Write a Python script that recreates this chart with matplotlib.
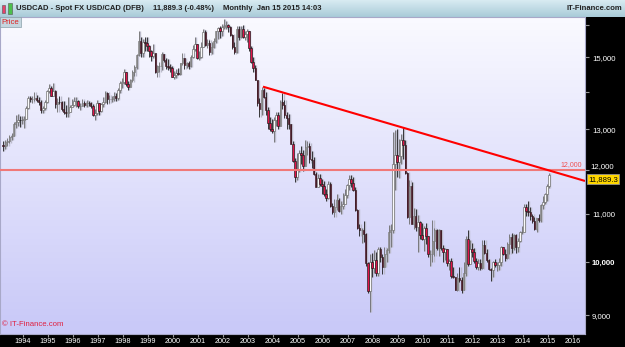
import matplotlib
matplotlib.use("Agg")
import matplotlib.pyplot as plt
import numpy as np
from matplotlib.patches import Rectangle

# USDCAD monthly candles, Mar 1993 .. Jan 2015 (chart quotes x10000)
first_open = 12600
close = [
    12580, 12670, 12700, 12810, 12840, 13140, 13200, 13250, 13240, 13250,  # 1993 (Mar-Dec)
    13270, 13570, 13830, 13820, 13820, 13830, 13780, 13720, 13500, 13560, 13730, 14020,  # 1994
    14100, 13900, 14020, 13660, 13740, 13730, 13540, 13470, 13420, 13470, 13580, 13650,  # 1995
    13760, 13760, 13620, 13630, 13690, 13650, 13710, 13700, 13620, 13390, 13440, 13700,  # 1996
    13490, 13670, 13720, 13980, 13800, 13800, 13820, 13900, 13840, 14070, 14250, 14280,  # 1997
    14560, 14230, 14150, 14330, 14580, 14700, 15060, 15480, 15140, 15460, 15430, 15330,  # 1998
    15180, 15030, 15130, 14580, 14730, 14730, 15090, 14910, 14740, 14700, 14680, 14430,  # 1999
    14480, 14530, 14510, 14820, 14990, 14780, 14840, 14730, 15020, 15250, 15400, 14990,  # 2000
    15010, 15320, 15770, 15370, 15430, 15170, 15320, 15490, 15790, 15890, 15800, 15920,  # 2001
    15960, 16000, 15940, 15660, 15300, 15170, 15870, 15610, 15870, 15620, 15690, 15790,  # 2002
    15290, 14870, 14690, 14350, 13690, 13530, 14050, 13850, 13510, 13180, 13000, 12960,  # 2003
    13250, 13370, 13100, 13720, 13640, 13370, 13290, 13130, 12640, 12210, 11840, 12000,  # 2004
    12400, 12360, 12100, 12560, 12590, 12250, 12240, 11900, 11610, 11800, 11680, 11630,  # 2005
    11440, 11360, 11670, 11180, 11030, 11150, 11300, 11060, 11180, 11220, 11420, 11650,  # 2006
    11790, 11700, 11540, 11080, 10690, 10650, 10660, 10570, 9970, 9450, 9990, 9880,  # 2007
    10040, 9790, 10270, 10090, 9910, 10150, 10240, 10620, 10650, 12150, 12370, 12180,  # 2008
    12330, 12730, 12600, 11930, 10930, 11630, 10780, 10950, 10720, 10830, 10550, 10470,  # 2009
    10690, 10530, 10150, 10150, 10420, 10650, 10280, 10660, 10290, 10190, 10260, 9980,  # 2010
    10010, 9720, 9700, 9460, 9690, 9640, 9460, 9790, 10470, 9960, 10260, 10190,  # 2011
    10020, 9900, 9980, 9880, 10340, 10180, 10030, 9860, 9840, 9990, 9940, 9950,  # 2012
    9990, 10300, 10160, 10080, 10360, 10510, 10280, 10540, 10300, 10430, 10610, 10620,  # 2013
    11140, 11070, 11050, 10960, 10840, 10670, 10910, 10870, 11200, 11270, 11430, 11620,  # 2014
    11889.3,  # 2015 Jan
]
high = [
    12700, 12730, 12780, 12860, 12920, 13190, 13380, 13410, 13360, 13340,
    13350, 13620, 13900, 13900, 13880, 13990, 13930, 13860, 13770, 13620, 13780, 14060,
    14230, 14160, 14260, 14060, 13840, 13890, 13760, 13760, 13650, 13860, 13640, 13810,
    13860, 13850, 13780, 13710, 13800, 13750, 13780, 13760, 13740, 13660, 13530, 13770,
    13700, 13700, 13850, 14030, 13990, 13930, 13900, 13990, 13970, 14120, 14300, 14400,
    14640, 14580, 14300, 14380, 14620, 14760, 15100, 15805, 15600, 15560, 15600, 15620,
    15380, 15230, 15390, 15140, 14760, 14860, 15160, 15110, 14980, 14950, 14800, 14750,
    14600, 14640, 14690, 14840, 15130, 14990, 14860, 14900, 15070, 15380, 15600, 15390,
    15190, 15450, 15850, 15820, 15560, 15520, 15470, 15580, 15800, 15920, 15950, 16030,
    16190, 16110, 16030, 15970, 15700, 15450, 15960, 15950, 15960, 16000, 15800, 15860,
    15800, 15350, 15000, 14780, 14340, 13840, 14150, 14100, 13990, 13590, 13330, 13270,
    13320, 13470, 13450, 13780, 13970, 13790, 13470, 13410, 13130, 12700, 12290, 12420,
    12470, 12570, 12490, 12730, 12700, 12650, 12460, 12310, 11960, 11910, 11900, 11790,
    11730, 11560, 11740, 11710, 11230, 11330, 11450, 11350, 11290, 11470, 11560, 11670,
    11880, 11870, 11840, 11590, 11110, 10780, 10700, 10850, 10590, 10000, 10150, 10180,
    10250, 10190, 10310, 10300, 10150, 10300, 10290, 10750, 10780, 12940, 12990, 13000,
    12760, 12880, 13060, 12730, 11950, 11770, 11720, 11130, 11100, 10980, 10840, 10810,
    10730, 10800, 10480, 10250, 10860, 10690, 10680, 10680, 10540, 10350, 10290, 10250,
    10050, 10070, 9900, 9710, 9780, 9910, 9700, 9990, 10530, 10660, 10450, 10390,
    10290, 10080, 10050, 10060, 10440, 10450, 10260, 10050, 9890, 10010, 10050, 9990,
    10080, 10330, 10300, 10270, 10400, 10560, 10600, 10560, 10580, 10480, 10640, 10730,
    11220, 11220, 11280, 11140, 11000, 10940, 10910, 11000, 11210, 11390, 11470, 11680,
    11920,
]
low = [
    12450, 12510, 12590, 12650, 12720, 12830, 13050, 13100, 13060, 13140,
    13040, 13270, 13530, 13720, 13700, 13760, 13740, 13650, 13440, 13430, 13500, 13700,
    13960, 13880, 13890, 13560, 13470, 13670, 13490, 13400, 13330, 13330, 13460, 13580,
    13610, 13600, 13570, 13510, 13610, 13580, 13600, 13610, 13560, 13360, 13250, 13380,
    13370, 13450, 13580, 13700, 13680, 13700, 13720, 13750, 13760, 13780, 13980, 14120,
    14220, 14170, 14070, 14130, 14280, 14440, 14650, 15040, 15000, 15000, 15180, 15180,
    15000, 14880, 14980, 14540, 14430, 14580, 14620, 14850, 14640, 14630, 14580, 14410,
    14360, 14400, 14470, 14470, 14780, 14660, 14680, 14640, 14710, 14990, 15200, 14940,
    14930, 14990, 15300, 15350, 15270, 15070, 15100, 15280, 15440, 15540, 15590, 15630,
    15850, 15870, 15770, 15630, 15250, 15100, 15120, 15530, 15580, 15580, 15520, 15460,
    15190, 14830, 14580, 14340, 13630, 13330, 13380, 13830, 13380, 13010, 12970, 12900,
    12680, 13080, 13000, 13090, 13540, 13300, 13010, 13000, 12620, 12180, 11720, 11760,
    11940, 12150, 11980, 12090, 12370, 12170, 12040, 11880, 11590, 11630, 11620, 11430,
    11400, 11280, 11320, 11150, 10990, 10940, 11090, 11040, 11000, 11110, 11210, 11340,
    11540, 11590, 11500, 11060, 10680, 10530, 10380, 10400, 9920, 9410, 9060, 9710,
    9790, 9720, 9720, 10000, 9770, 9910, 9990, 10170, 10300, 10600, 11530, 11830,
    11820, 12150, 12270, 11910, 10910, 10790, 10780, 10680, 10640, 10200, 10460, 10440,
    10210, 10360, 10100, 9930, 10000, 10110, 10230, 10120, 10240, 10000, 10040, 9920,
    9840, 9690, 9680, 9460, 9440, 9620, 9410, 9460, 9720, 9920, 9990, 10090,
    9980, 9870, 9840, 9840, 9870, 10160, 10000, 9840, 9630, 9710, 9900, 9820,
    9840, 9920, 10140, 10010, 10050, 10150, 10180, 10240, 10180, 10200, 10410, 10560,
    10610, 10950, 10950, 10860, 10810, 10650, 10620, 10830, 10830, 11100, 11210, 11290,
    11580,
]

# month stamps of the candles
months = [(1993, m) for m in range(3, 13)]
months += [(y, m) for y in range(1994, 2015) for m in range(1, 13)]
months += [(2015, 1)]

year_ticks = list(range(1994, 2017))
price_ticks = [9000, 10000, 11000, 12000, 13000, 14000, 15000, 16000]
price_labels = ["9,000", "10,000", "11,000", "", "13,000", "", "15,000", ""]

level_line = 12000
trend_start = (2003.6, 14150)
trend_end = (2016.48, 11740)
last_price = 11889.3

title_main = "USDCAD - Spot FX USD/CAD (DFB)"
title_quote = "11,889.3 (-0.48%)"
title_period = "Monthly  Jan 15 2015 14:03"

# ------------------------------------------------------------------
W, H = 625, 347
plt.rcParams["font.family"] = ["Liberation Sans", "DejaVu Sans"]
fig = plt.figure(figsize=(W / 100, H / 100), dpi=100, facecolor="black")


def rect(x0, y0, x1, y1):
    return [x0 / W, 1 - y1 / H, (x1 - x0) / W, (y1 - y0) / H]


# header bar
hdr = fig.add_axes(rect(0, 0, W, 17))
grad = np.linspace(0, 1, 50)[:, None]
hdr.imshow(grad, cmap=matplotlib.colors.LinearSegmentedColormap.from_list(
    "hdr", ["#d8ebf2", "#a9cbd8"]), aspect="auto", extent=[0, 1, 0, 1])
hdr.set_axis_off()
hdr.set_xlim(0, 1)
hdr.set_ylim(0, 1)

fig.add_artist(Rectangle((2 / W, 1 - 13 / H), 3 / W, 8 / H, transform=fig.transFigure,
                         facecolor="#e8406a", edgecolor="#555555", lw=0.4))
fig.add_artist(Rectangle((8 / W, 1 - 14 / H), 4 / W, 11 / H, transform=fig.transFigure,
                         facecolor="#4cc04c", edgecolor="#555555", lw=0.4))
tk = dict(fontsize=5.5, fontweight="bold", color="#202020", va="center")
fig.text(16 / W, 1 - 8 / H, title_main, **tk)
fig.text(153 / W, 1 - 8 / H, title_quote, **tk)
fig.text(223 / W, 1 - 8 / H, title_period, **tk)
fig.text(622 / W, 1 - 8 / H, "IT-Finance.com", ha="right", **tk)

# plot background gradient
bg = fig.add_axes(rect(0, 17, 585, 334))
bg.imshow(grad, cmap=matplotlib.colors.LinearSegmentedColormap.from_list(
    "bg", ["#f9f9ff", "#c9c9f8"]), aspect="auto", extent=[0, 1, 0, 1])
bg.set_axis_off()

ax = fig.add_axes(rect(0, 17, 585, 334), facecolor="none")

x = np.array([y + (m - 0.5) / 12 for y, m in months])
c = np.array(close, dtype=float)
o = np.concatenate([[first_open], c[:-1]])
h = np.maximum(np.array(high, dtype=float), np.maximum(o, c))
l = np.minimum(np.array(low, dtype=float), np.minimum(o, c))
up = c >= o

bw = 0.062
# soft grey shadow behind each candle
ax.vlines(x + 0.045, l, h, color="#bcbccc", lw=1.0, zorder=1)
ax.bar(x + 0.045, np.abs(c - o), bottom=np.minimum(o, c), width=bw,
       color="#bcbccc", lw=0, zorder=1)

ax.vlines(x[up], l[up], h[up], color="#6a6a6a", lw=0.6, zorder=2)
ax.vlines(x[~up], l[~up], h[~up], color="#1a1a1a", lw=0.6, zorder=2)
ax.bar(x[up], np.abs(c - o)[up], bottom=np.minimum(o, c)[up], width=bw,
       color="#fafafa", edgecolor="#666666", lw=0.45, zorder=3)
ax.bar(x[~up], np.abs(c - o)[~up], bottom=np.minimum(o, c)[~up], width=bw,
       color="#e0144a", edgecolor="#1a1a1a", lw=0.45, zorder=3)

ax.axhline(level_line, color="#f07878", lw=1.5, zorder=4)
ax.plot([trend_start[0], trend_end[0]], [trend_start[1], trend_end[1]],
        color="#ff0000", lw=1.5, zorder=5, solid_capstyle="butt")

ax.set_yscale("log")
ax.set_xlim(1993.08, 2016.48)
ax.set_ylim(8671, 16243)

ax.yaxis.tick_right()
ax.set_yticks(price_ticks)
ax.set_yticklabels(price_labels)
ax.yaxis.set_minor_locator(matplotlib.ticker.NullLocator())
ax.tick_params(axis="y", direction="out", length=3, color="#999999", labelcolor="white",
               labelsize=5.6, pad=2)
for t in ax.get_yticklabels():
    if t.get_text() == "10,000":
        t.set_fontweight("bold")
# 12,000 axis label sits just above the last-price box
ax.text(1.0 + 5 / 585, level_line * 1.0005, "12,000", transform=ax.get_yaxis_transform(),
        ha="left", va="bottom", fontsize=5.6, color="white", clip_on=False)

ax.set_xticks(year_ticks)
ax.set_xticklabels([str(y) for y in year_ticks])
ax.tick_params(axis="x", direction="out", length=2, color="#999999", labelcolor="white",
               labelsize=5.2, pad=1)

for s in ax.spines.values():
    s.set_color("#a8a8c8")
    s.set_linewidth(0.8)

ax.text(0.995, level_line * 1.004, "12,000", transform=ax.get_yaxis_transform(),
        ha="right", va="bottom", fontsize=5, color="#f05050", zorder=6)
ax.text(1.005, last_price * 0.998, "11,889.3", transform=ax.get_yaxis_transform(),
        ha="left", va="top", fontsize=5.6, color="black", zorder=10, clip_on=False,
        bbox=dict(boxstyle="square,pad=0.15", facecolor="#ffd700", edgecolor="#909090", lw=0.6))

ax.text(0.003, 0.995, "Price", transform=ax.transAxes, ha="left", va="top",
        fontsize=5.6, color="#e02020", zorder=10,
        bbox=dict(boxstyle="square,pad=0.2", facecolor="#c4d6df", edgecolor="#8aa0aa", lw=0.5))
ax.text(0.004, 0.018, "\u00a9 IT-Finance.com", transform=ax.transAxes, ha="left",
        va="bottom", fontsize=5.6, color="#e02040", zorder=10)

fig.savefig("out.png", dpi=100, facecolor="black")
